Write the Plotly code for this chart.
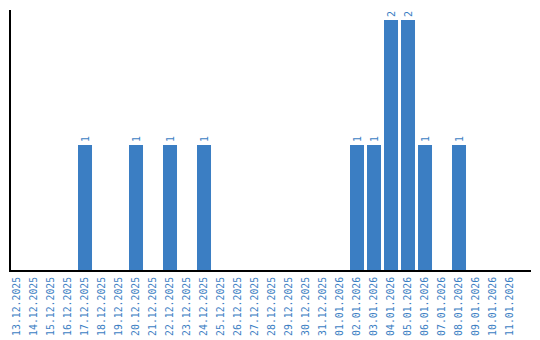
import plotly.graph_objects as go

dates = ["13.12.2025", "14.12.2025", "15.12.2025", "16.12.2025", "17.12.2025", "18.12.2025",
         "19.12.2025", "20.12.2025", "21.12.2025", "22.12.2025", "23.12.2025", "24.12.2025",
         "25.12.2025", "26.12.2025", "27.12.2025", "28.12.2025", "29.12.2025", "30.12.2025",
         "31.12.2025", "01.01.2026", "02.01.2026", "03.01.2026", "04.01.2026", "05.01.2026",
         "06.01.2026", "07.01.2026", "08.01.2026", "09.01.2026", "10.01.2026", "11.01.2026"]
counts = [0, 0, 0, 0, 1, 0, 0, 1, 0, 1, 0, 1, 0, 0, 0, 0, 0, 0, 0, 0, 1, 1, 2, 2, 1, 0, 1, 0, 0, 0]

blue = "#3b7ec3"
labels = [str(v) if v else "" for v in counts]

fig = go.Figure(go.Bar(
    x=dates, y=counts, marker_color=blue, marker_line_width=0,
    text=labels, textposition="outside", textangle=-90,
    textfont=dict(family="DejaVu Sans Mono", size=10, color=blue),
    cliponaxis=False,
))
fig.update_layout(
    width=540, height=340, margin=dict(l=11, r=9, t=10, b=70, autoexpand=False),
    plot_bgcolor="white", paper_bgcolor="white", bargap=0.176, showlegend=False,
)
fig.update_xaxes(type="category", range=[-0.353, 30.235], tickangle=-90, showline=True,
                 linecolor="black", linewidth=2, showgrid=False, ticks="",
                 ticklabelstandoff=1, automargin=False,
                 tickfont=dict(family="DejaVu Sans Mono", size=9.8, color=blue))
fig.update_yaxes(range=[0, 2.08], showline=True, linecolor="black", linewidth=2,
                 showgrid=False, zeroline=False, showticklabels=False, ticks="",
                 automargin=False)
fig.write_html("out.html")
